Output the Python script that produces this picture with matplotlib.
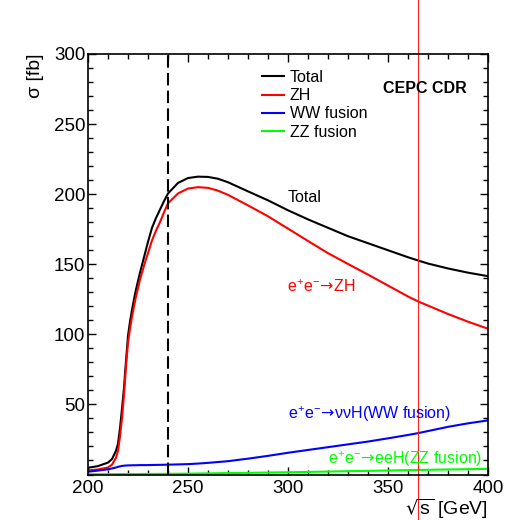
import matplotlib
matplotlib.use("Agg")
import matplotlib.pyplot as plt
import matplotlib.transforms as mtransforms
from matplotlib.ticker import MultipleLocator

plt.rcParams['font.family'] = ['Liberation Sans', 'DejaVu Sans']
plt.rcParams['mathtext.fontset'] = 'dejavusans'

# sqrt(s) in GeV and cross sections in fb
sqrt_s = [200, 205, 210, 212, 214, 215, 216, 217, 218, 219, 220, 221, 222, 223,
          224, 226, 228, 230, 232, 234, 236, 238, 240, 245, 250, 255, 260, 265,
          270, 280, 290, 300, 310, 320, 330, 340, 350, 360, 365, 370, 380, 390, 400]
total = [4.8, 6.0, 8.5, 11, 17, 22, 33, 47, 62, 81, 99, 109, 117.5, 125,
         132, 144, 155, 166, 176, 183, 189, 195, 200.5, 208, 211.5, 212.5, 212.3, 211,
         208.5, 202, 195.6, 188.5, 182, 176, 170, 165, 160, 155, 152.7, 150.5, 147, 144, 141.5]
zh = [2.9, 3.6, 5.0, 7, 12, 17, 27, 40, 57, 77, 94, 104, 112.5, 120,
      127, 139, 149, 158, 167, 174, 180, 187, 193.5, 200.5, 204, 205, 204.5, 202.5,
      199.5, 192, 184.2, 175.4, 166.6, 157.9, 150.2, 142.6, 134.8, 127, 123.5, 120.5, 114.5, 109, 104]
ww = [2.0, 2.8, 3.7, 4.3, 5.0, 5.5, 5.8, 6.1, 6.3, 6.4, 6.5, 6.5, 6.6, 6.6,
      6.6, 6.7, 6.7, 6.7, 6.8, 6.85, 6.9, 6.95, 7.0, 7.2, 7.4, 7.8, 8.3, 8.9,
      9.5, 11.3, 13.3, 15.5, 17.5, 19.5, 21.5, 23.5, 25.8, 28.2, 29.5, 31, 34, 36.5, 38.6]
zz = [0.2, 0.2, 0.2, 0.25, 0.25, 0.3, 0.3, 0.3, 0.3, 0.3, 0.3, 0.3, 0.3, 0.3,
      0.35, 0.35, 0.4, 0.4, 0.4, 0.42, 0.45, 0.47, 0.5, 0.55, 0.6, 0.7, 0.8, 0.9,
      1.0, 1.2, 1.4, 1.6, 1.85, 2.1, 2.35, 2.6, 2.85, 3.1, 3.2, 3.35, 3.6, 3.8, 4.0]

fig = plt.figure(figsize=(5.2, 5.2), dpi=100)
ax = fig.add_axes([88/520, 1-474.5/520, 400/520, 420.5/520])

ax.plot(sqrt_s, total, color='black', lw=1.5, label='Total')
ax.plot(sqrt_s, zh, color='#ff0000', lw=1.5, label='ZH')
ax.plot(sqrt_s, ww, color='#0000ff', lw=1.5, label='WW fusion')
ax.plot(sqrt_s, zz, color='#00ff00', lw=1.5, label='ZZ fusion')

ax.axvline(240, color='black', lw=1.5, dashes=[6, 2.5])

# thin red marker line that runs over the whole canvas
trans = mtransforms.blended_transform_factory(ax.transData, fig.transFigure)
ax.plot([365, 365], [0, 1], transform=trans, color='#ff2020', lw=0.8, clip_on=False)

ax.set_xlim(200, 400)
ax.set_ylim(0, 300)
ax.set_yticks([50, 100, 150, 200, 250, 300])
ax.xaxis.set_major_locator(MultipleLocator(50))
ax.xaxis.set_minor_locator(MultipleLocator(10))
ax.yaxis.set_minor_locator(MultipleLocator(10))
ax.tick_params(which='both', direction='in', top=True, right=True, width=1)
ax.tick_params(which='major', length=6, labelsize=13.5)
ax.tick_params(which='minor', length=3.5)
ax.tick_params(axis='y', pad=2)
ax.tick_params(axis='x', pad=4)
for s in ax.spines.values():
    s.set_linewidth(1.2)

fig.text(35/520, 1-54/520, 'σ [fb]', rotation=90, ha='center', va='top', fontsize=14)
fig.text(488/520, 1-509/520, r'$\sqrt{\mathregular{s}}$ [GeV]', ha='right', va='center', fontsize=14)

leg = ax.legend(loc='upper left', bbox_to_anchor=(262/520, 1-70/520),
                bbox_transform=fig.transFigure, frameon=False, fontsize=11.5,
                handlelength=1.4, handletextpad=0.35, labelspacing=0.2,
                borderpad=0, borderaxespad=0)

fig.text(383/520, 1-88/520, 'CEPC CDR', fontweight='bold', fontsize=11.5, va='center')

arrow = r'$\mathregular{e^{+}e^{-}}\!\rightarrow\!$'
fig.text(288/520, 1-197/520, 'Total', fontsize=11.5, va='center')
fig.text(287/520, 1-287/520, arrow + 'ZH', color='#ff0000', fontsize=11.5, va='center')
fig.text(288/520, 1-414/520, arrow + 'ννH(WW fusion)', color='#0000ff', fontsize=11.5, va='center')
fig.text(328/520, 1-459/520, arrow + 'eeH(ZZ fusion)', color='#00ff00', fontsize=11.5, va='center')

fig.savefig('out.png', dpi=100)
